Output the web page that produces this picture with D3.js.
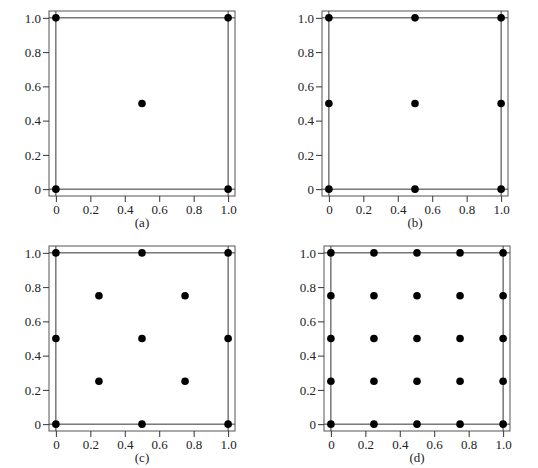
<!DOCTYPE html>
<html>
<head>
<meta charset="utf-8">
<script src="https://d3js.org/d3.v7.min.js"></script>
<style>
  body { margin: 0; background: #fff; }
  svg { display: block; }
</style>
</head>
<body>
<svg id="chart" width="538" height="468"></svg>
<script>
// data
const panelLabels = ["(a)", "(b)", "(c)", "(d)"];
const tickValues = [0, 0.2, 0.4, 0.6, 0.8, 1.0];
const tickLabels = ["0", "0.2", "0.4", "0.6", "0.8", "1.0"];
const guideLines = [0, 1];

const pointsA = [[0, 0], [1, 0], [0, 1], [1, 1], [0.5, 0.5]];
const pointsB = [[0, 0], [0.5, 0], [1, 0], [0, 0.5], [0.5, 0.5], [1, 0.5], [0, 1], [0.5, 1], [1, 1]];
const pointsC = [[0, 0], [0.5, 0], [1, 0], [0.25, 0.25], [0.75, 0.25], [0, 0.5], [0.5, 0.5], [1, 0.5],
                 [0.25, 0.75], [0.75, 0.75], [0, 1], [0.5, 1], [1, 1]];
const pointsD = [[0, 0], [0.25, 0], [0.5, 0], [0.75, 0], [1, 0],
                 [0, 0.25], [0.25, 0.25], [0.5, 0.25], [0.75, 0.25], [1, 0.25],
                 [0, 0.5], [0.25, 0.5], [0.5, 0.5], [0.75, 0.5], [1, 0.5],
                 [0, 0.75], [0.25, 0.75], [0.5, 0.75], [0.75, 0.75], [1, 0.75],
                 [0, 1], [0.25, 1], [0.5, 1], [0.75, 1], [1, 1]];

// layout of the four panels (frame boxes)
const panels = [
  {left: 49, top: 11, points: pointsA},
  {left: 322, top: 11, points: pointsB},
  {left: 49, top: 246, points: pointsC},
  {left: 324, top: 246, points: pointsD}
];
const frameW = 186, frameH = 185;
const fontFamily = "'Liberation Serif', 'Times New Roman', serif";

const svg = d3.select("#chart");

panels.forEach(function(p, i) {
  const g = svg.append("g")
    .attr("transform", "translate(" + p.left + "," + p.top + ")");

  const x = d3.scaleLinear().domain([-0.04, 1.04]).range([0, frameW]);
  const y = d3.scaleLinear().domain([-0.04, 1.04]).range([frameH, 0]);

  // guide lines at 0 and 1 spanning the whole frame
  g.selectAll(".vline").data(guideLines).enter().append("line")
    .attr("x1", d => x(d)).attr("x2", d => x(d))
    .attr("y1", 0).attr("y2", frameH)
    .attr("stroke", "#333").attr("stroke-width", 1);
  g.selectAll(".hline").data(guideLines).enter().append("line")
    .attr("y1", d => y(d)).attr("y2", d => y(d))
    .attr("x1", 0).attr("x2", frameW)
    .attr("stroke", "#333").attr("stroke-width", 1);

  // frame
  g.append("rect")
    .attr("x", 0).attr("y", 0)
    .attr("width", frameW).attr("height", frameH)
    .attr("fill", "none").attr("stroke", "#555").attr("stroke-width", 1);

  // axes
  const xAxis = d3.axisBottom(x).tickValues(tickValues)
    .tickFormat((d, j) => tickLabels[j]).tickSize(6).tickPadding(3);
  const yAxis = d3.axisLeft(y).tickValues(tickValues)
    .tickFormat((d, j) => tickLabels[j]).tickSize(6).tickPadding(2);

  g.append("g").attr("transform", "translate(0," + frameH + ")").call(xAxis)
    .attr("font-family", fontFamily).attr("font-size", 13)
    .call(a => a.select(".domain").remove())
    .call(a => a.selectAll(".tick line").attr("stroke", "#333"))
    .call(a => a.selectAll(".tick text").attr("fill", "#222"));
  g.append("g").call(yAxis)
    .attr("font-family", fontFamily).attr("font-size", 13)
    .call(a => a.select(".domain").remove())
    .call(a => a.selectAll(".tick line").attr("stroke", "#333"))
    .call(a => a.selectAll(".tick text").attr("fill", "#222"));

  // panel label
  g.append("text")
    .attr("x", x(0.5)).attr("y", frameH + 31)
    .attr("text-anchor", "middle")
    .attr("font-family", fontFamily)
    .attr("font-size", 13).attr("fill", "#222")
    .text(panelLabels[i]);

  // points
  g.selectAll(".pt").data(p.points).enter().append("circle")
    .attr("cx", d => x(d[0])).attr("cy", d => y(d[1]))
    .attr("r", 3.8).attr("fill", "#000");
});
</script>
</body>
</html>
